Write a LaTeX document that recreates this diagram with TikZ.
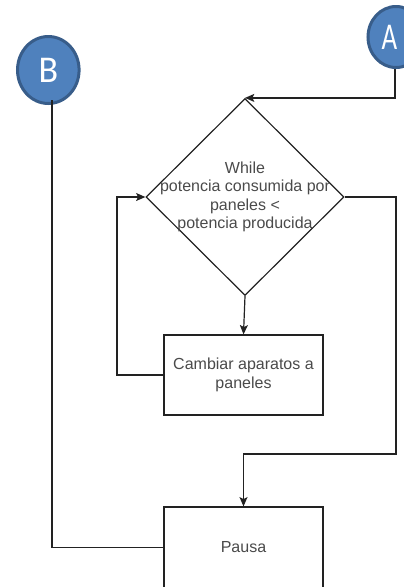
\documentclass[tikz,border=0pt]{standalone}
\usepackage{fontspec}
\setmainfont{Liberation Sans}
\newfontfamily\letterfont{Carlito}
\usetikzlibrary{shapes.geometric,arrows.meta}
\definecolor{connfill}{HTML}{4F81BD}
\definecolor{connedge}{HTML}{385D8A}
\definecolor{txtgray}{HTML}{4A4A4A}
\definecolor{linegray}{HTML}{222222}
\begin{document}
\begin{tikzpicture}[x=0.75pt,y=-0.75pt,
  connector/.style={ellipse,draw=connedge,fill=connfill,line width=2.25pt,
    inner sep=0pt,text=white,font=\letterfont\fontsize{27}{27}\selectfont},
  connletter/.style={inner sep=0pt,text=white,font=\letterfont\fontsize{27}{27}\selectfont},
  procbox/.style={rectangle,draw=linegray,line width=0.9pt,fill=white,
    minimum width=119.25pt,minimum height=60pt,inner sep=0pt,
    text=txtgray,align=center,font=\fontsize{12}{13.9}\selectfont},
  decision/.style={diamond,draw=linegray,line width=0.9pt,inner sep=0pt,
    minimum width=148.5pt,minimum height=147.75pt},
  flow/.style={draw=linegray,line width=0.9pt},
  arr/.style={flow,-{Stealth[length=7pt,width=6pt,inset=1.5pt]}}]
\useasboundingbox (0,0) rectangle (404,587);

% off-page connectors (A runs past the right edge)
\node[connector,minimum width=46.2pt,minimum height=50.25pt] (B) at (48.3,70)
  {\scalebox{1}[1.05]{B}};
\node[connector,minimum width=42pt,minimum height=45.75pt] (A) at (396,37) {};
\node[connletter] (Alabel) at (389.5,37.5) {\scalebox{0.75}[1.05]{A}};

% loop condition
\node[decision] (d) at (245,197) {};
\node[text=txtgray,align=center,font=\fontsize{12}{13.9}\selectfont]
  (dtext) at (d.center) {While\\potencia consumida por\\paneles <\\potencia producida};

% process steps
\node[procbox] (c) at (243.5,375) {Cambiar aparatos a\\paneles};
\node[procbox,minimum height=60.75pt] (p) at (243.5,547.5) {Pausa};

% routing points
\coordinate (a1) at (395,69);
\coordinate (b1) at (52,100);
\coordinate (r1) at (396,197);
\coordinate (r2) at (396,454);
\coordinate (l1) at (117,375);
\coordinate (b2) at (52,547.5);

% connectors
\draw[arr] (a1) |- (d.north);
\draw[arr] (d.south) -- (c.north);
\draw[arr] (c.west) -- (l1) |- (d.west);
\draw[arr] (d.east) -- (r1) -- (r2) -| (p.north);
\draw[flow] (b1) -- (b2) -- (p.west);
\end{tikzpicture}
\end{document}
